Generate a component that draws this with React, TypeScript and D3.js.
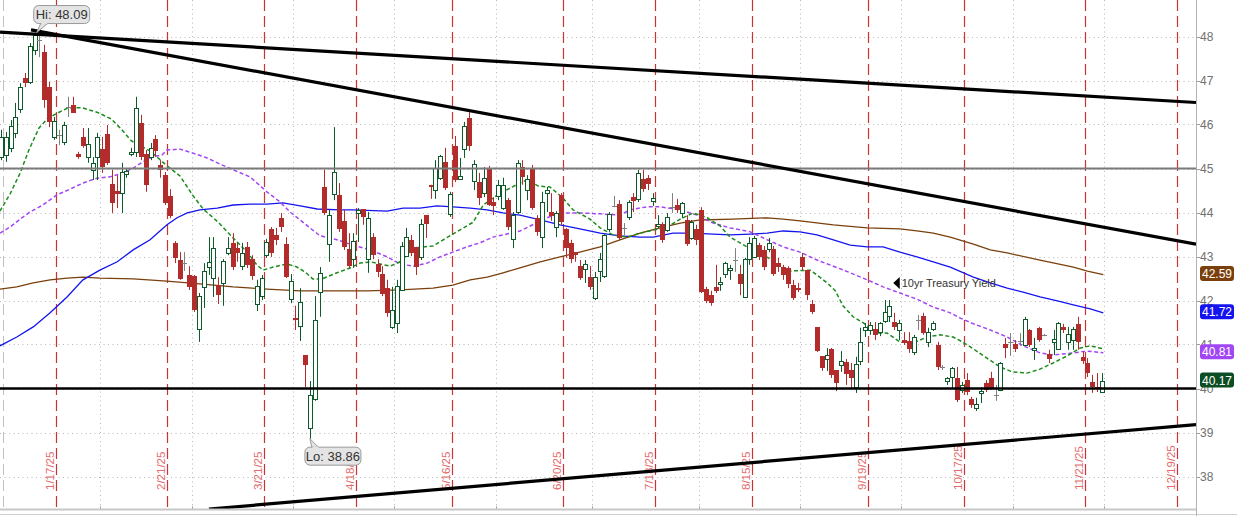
import React from "react";
import * as d3 from "d3";

type Bar = [number, number, number, number]; // open, high, low, close

// first bar is 12/31/24 (trading-day index -1); 1/2/25 is index 0
const FIRST_BAR_INDEX = -1;
const OHLC: Bar[] = [
  [45.26,45.88,45.19,45.72],[45.31,45.83,45.15,45.72],[45.47,46.10,45.37,45.97],[45.81,46.49,45.69,46.17],
  [46.35,46.94,46.26,46.85],[47.06,47.17,46.85,46.94],[46.97,47.85,46.92,47.78],[47.69,48.09,47.58,48.03],
  [47.92,48.03,47.53,47.92],[47.65,47.81,46.38,46.56],[46.85,46.97,45.94,46.06],[45.72,46.17,45.65,46.08],
  [45.76,45.88,45.53,45.76],[45.60,46.06,45.53,45.99],[46.40,46.63,46.17,46.40],[46.44,46.63,46.26,46.26],
  [45.33,45.38,45.22,45.26],[45.72,45.92,45.47,45.51],[45.26,45.92,45.13,45.56],[44.97,45.26,44.74,45.13],
  [45.26,45.81,44.74,45.72],[45.44,45.72,44.90,45.03],[45.78,45.99,45.08,45.13],[44.65,44.97,43.99,44.22],
  [44.49,44.85,44.10,44.42],[44.44,45.13,43.99,44.92],[44.87,45.01,44.79,44.94],[45.33,45.47,45.28,45.38],
  [45.38,46.63,45.26,46.38],[46.04,46.22,45.19,45.26],[45.33,45.42,44.47,44.62],[45.26,45.58,45.19,45.47],
  [45.67,45.76,45.26,45.40],[45.08,45.19,44.79,44.97],[44.85,44.92,44.17,44.22],[44.38,44.53,43.87,43.92],
  [43.31,43.35,42.85,42.97],[42.92,43.10,42.47,42.49],[42.85,43.10,42.67,42.85],[42.58,42.78,42.24,42.31],
  [42.56,42.58,41.74,41.78],[41.35,42.17,41.06,42.10],[42.31,42.85,41.83,42.67],[42.76,43.44,42.58,42.88],
  [42.51,43.44,42.08,43.19],[42.35,42.53,41.92,42.13],[42.40,42.94,41.88,42.90],[43.08,43.44,43.03,43.19],
  [43.31,43.53,42.69,42.76],[43.19,43.31,42.88,43.08],[42.78,43.31,42.69,43.08],[43.22,43.33,42.74,42.81],
  [42.94,43.03,42.47,42.56],[41.92,42.47,41.76,42.33],[42.10,42.58,42.01,42.51],[43.03,43.40,42.97,43.33],
  [43.63,43.67,42.99,43.08],[43.49,43.65,43.26,43.38],[43.88,43.99,43.56,43.67],[43.29,43.44,42.51,42.53],
  [42.03,42.60,41.94,42.44],[41.60,41.88,41.33,41.56],[41.42,42.28,41.08,41.97],[40.76,40.76,40.03,40.53],
  [39.10,40.17,38.86,39.85],[39.76,42.10,39.72,41.56],[42.19,42.76,41.63,42.63],[44.58,44.97,43.94,43.99],
  [43.29,44.06,42.88,43.94],[44.42,45.94,44.28,44.92],[44.40,44.67,43.56,43.63],[43.81,44.06,43.15,43.22],
  [43.17,43.53,42.74,42.78],[42.94,43.53,42.74,43.35],[43.99,44.10,43.33,44.06],[44.08,44.08,43.72,43.90],
  [42.94,44.01,42.63,43.88],[43.44,43.53,42.94,43.03],[42.83,42.94,42.53,42.65],[42.60,42.78,42.10,42.15],
  [42.28,42.47,41.63,41.72],[41.40,42.31,41.35,41.79],[41.49,42.47,41.26,42.33],[42.24,43.33,42.22,43.24],
  [43.01,43.65,42.99,43.44],[43.38,43.49,43.01,43.08],[43.22,43.22,42.58,42.76],[42.99,43.85,42.92,43.74],
  [43.94,43.94,43.42,43.74],[44.63,44.63,44.31,44.58],[44.51,45.19,44.31,45.01],[44.78,45.31,44.74,45.28],
  [45.15,45.47,44.51,44.56],[43.97,44.47,43.90,44.42],[45.51,45.74,44.69,44.74],[44.76,45.24,44.74,44.83],
  [45.44,46.06,45.24,45.97],[46.15,46.28,45.40,45.51],[44.72,45.19,44.51,45.10],[44.69,44.90,44.17,44.33],
  [44.44,45.03,44.35,44.79],[45.01,45.06,44.15,44.17],[44.24,44.35,43.94,44.15],[44.38,44.74,44.28,44.63],
  [44.10,44.79,44.06,44.63],[44.28,44.33,43.60,43.67],[43.40,44.01,43.19,43.94],[44.01,45.19,43.97,45.13],
  [45.03,45.19,44.63,44.81],[44.51,44.85,44.28,44.76],[44.99,45.08,44.06,44.10],[43.88,43.94,43.47,43.56],
  [43.44,44.47,43.19,44.24],[44.44,44.58,44.01,44.51],[44.01,44.44,43.81,43.92],[43.67,44.03,43.44,43.99],
  [44.40,44.44,43.72,43.78],[43.63,43.65,42.97,43.19],[43.31,43.38,42.85,42.94],[43.10,43.10,42.88,43.03],
  [42.78,42.92,42.47,42.51],[42.72,42.92,42.40,42.83],[42.53,42.78,42.24,42.31],[42.06,42.65,42.01,42.53],
  [42.67,43.08,42.42,42.94],[42.56,43.53,42.51,43.49],[43.63,44.01,43.56,43.97],[44.15,44.38,44.12,44.15],
  [44.19,44.28,43.38,43.42],[43.65,43.76,43.49,43.65],[43.90,44.28,43.83,44.24],[44.35,44.44,44.01,44.26],
  [44.31,44.97,44.24,44.90],[44.76,44.97,44.47,44.53],[44.78,44.85,44.51,44.65],[44.26,44.44,44.15,44.33],
  [43.69,43.94,43.65,43.74],[43.74,43.78,43.31,43.38],[43.60,43.99,43.56,43.90],[44.12,44.44,43.99,44.12],
  [44.17,44.31,43.99,44.06],[43.99,44.24,43.87,44.22],[43.83,43.94,43.24,43.29],[43.42,43.83,43.38,43.78],
  [43.63,43.72,43.26,43.38],[44.06,44.12,42.17,42.19],[42.26,42.31,41.94,41.99],[42.13,42.22,41.88,41.94],
  [42.31,42.81,42.17,42.22],[42.38,42.53,42.22,42.42],[42.60,42.88,42.51,42.85],[42.69,42.81,42.47,42.74],
  [42.92,43.19,42.65,42.92],[42.60,42.81,42.12,42.38],[42.08,42.97,42.08,42.94],[42.94,43.44,42.81,43.31],
  [42.99,43.47,42.97,43.42],[43.26,43.31,42.92,42.99],[43.15,43.24,42.69,42.76],[43.17,43.42,43.10,43.31],
  [43.17,43.24,42.56,42.60],[42.85,42.97,42.65,42.76],[42.76,42.81,42.47,42.58],[42.74,42.78,42.28,42.38],
  [42.35,42.47,42.01,42.06],[42.28,42.40,42.19,42.26],[42.99,43.08,42.69,42.76],[42.69,42.69,42.01,42.13],
  [41.92,42.01,41.69,41.74],[41.40,41.40,40.83,40.85],[40.74,40.74,40.40,40.47],[40.67,40.92,40.40,40.76],
  [40.90,40.92,40.24,40.31],[40.42,40.42,39.94,40.12],[40.53,40.85,40.38,40.63],[40.60,40.67,40.08,40.33],
  [40.42,40.58,39.99,40.24],[40.03,40.72,39.90,40.56],[40.63,41.38,40.53,41.06],[41.33,41.49,41.17,41.40],
  [41.33,41.51,41.22,41.44],[41.35,41.51,41.10,41.22],[41.28,41.51,41.19,41.49],[41.53,42.01,41.49,41.74],
  [41.65,42.01,41.51,41.88],[41.51,41.72,41.33,41.40],[41.33,41.56,41.10,41.49],[41.10,41.28,40.99,41.04],
  [41.08,41.28,40.81,40.90],[40.83,41.22,40.76,41.17],[41.56,41.67,41.33,41.56],[41.65,41.72,41.22,41.26],
  [41.06,41.38,40.94,41.28],[41.35,41.53,41.31,41.49],[40.99,41.06,40.42,40.49],[40.49,40.53,40.42,40.49],
  [40.17,40.26,40.08,40.24],[40.26,40.49,40.01,40.47],[40.24,40.49,39.69,39.74],[39.97,40.15,39.90,40.08],
  [40.19,40.35,39.85,39.92],[39.76,39.81,39.56,39.63],[39.56,39.79,39.49,39.65],[39.90,40.03,39.67,39.94],
  [40.12,40.19,39.92,39.97],[40.24,40.38,39.97,40.01],[39.85,40.08,39.72,39.85],[39.97,40.60,39.94,40.58],
  [41.01,41.15,40.69,40.92],[41.06,41.26,40.74,41.06],[41.01,41.10,40.83,40.90],[41.08,41.26,40.97,41.08],
  [40.99,41.63,40.97,41.58],[41.33,41.35,40.94,40.99],[40.88,41.15,40.65,40.92],[41.38,41.40,41.06,41.10],
  [41.22,41.24,41.19,41.22],[40.79,40.88,40.58,40.67],[41.06,41.33,40.76,41.13],[40.90,41.51,40.88,41.49],
  [41.40,41.47,41.26,41.33],[41.06,41.40,40.88,41.24],[41.10,41.40,40.88,41.35],[41.47,41.63,40.88,41.06],
  [40.72,40.83,40.56,40.63],[40.58,40.69,40.26,40.35],[40.15,40.31,39.90,40.03],[40.03,40.35,39.92,40.01],
  [39.92,40.35,39.90,40.17],
];

const WEEK_LABELS = ["1/17/25","2/21/25","3/21/25","4/18/25","5/16/25","6/20/25","7/18/25","8/15/25","9/19/25","10/17/25","11/21/25","12/19/25"];
const WEEK_INDEX = [10,33,53,72,92,115,134,154,178,198,223,242];
const MONTH_INDEX = [20,39,60,81,102,122,144,165,186,209,228];
const YEAR_START_INDEX = 0;
const PRICE_TICKS = [38,39,40,41,42,43,44,45,46,47,48];
const RESISTANCE_LEVEL = 45;
const SUPPORT_LEVEL = 40;

// trend lines: [index, price] end points
const TREND_UPPER: [number, number][] = [[-1.18,48.10],[246.5,46.50]];
const TREND_FALLING: [number, number][] = [[5.24,48.15],[246.5,43.28]];
const TREND_RISING: [number, number][] = [[42.1,37.26],[246.5,39.18]];

// moving averages: [index, value]
const MA_FAST: [number, number][] = [
  [-1.2,44.03],[0.9,44.42],[3.0,44.90],[4.8,45.42],[6.9,45.92],[8.8,46.15],[12.9,46.38],[15.8,46.38],
  [18.9,46.28],[21.8,46.13],[23.9,45.90],[26.0,45.63],[29.9,45.40],[33.0,45.10],[36.1,44.83],[38.8,44.38],
  [40.9,44.08],[44.0,43.78],[47.1,43.42],[50.0,43.10],[52.0,42.81],[53.3,42.69],[55.4,42.76],[58.3,42.83],
  [60.3,42.76],[62.0,42.65],[63.6,42.49],[65.5,42.49],[68.6,42.63],[71.3,42.74],[73.4,42.85],[75.5,42.88],
  [79.6,42.78],[81.7,42.88],[84.4,43.19],[88.5,43.24],[92.6,43.51],[96.8,43.78],[98.9,44.17],[102.4,44.44],
  [106.5,44.67],[108.0,44.74],[110.3,44.60],[112.7,44.58],[115.2,44.35],[117.5,44.06],[121.0,43.85],
  [123.1,43.65],[125.8,43.49],[128.7,43.44],[131.4,43.53],[134.1,43.60],[137.0,43.67],[139.7,43.85],
  [142.4,43.99],[145.3,43.88],[148.0,43.69],[150.0,43.44],[152.1,43.31],[154.2,43.17],[156.9,43.03],
  [158.7,42.92],[160.4,42.74],[162.5,42.67],[166.6,42.69],[168.0,42.58],[170.1,42.40],[171.8,42.22],
  [173.4,41.88],[175.5,41.63],[177.6,41.49],[180.5,41.26],[182.5,41.26],[185.2,41.06],[187.9,41.03],
  [190.8,41.17],[193.5,41.22],[196.2,41.17],[198.1,41.06],[200.4,40.90],[203.2,40.69],[205.9,40.49],
  [208.4,40.38],[211.5,40.35],[214.2,40.44],[216.9,40.58],[219.8,40.74],[222.5,40.92],[224.6,40.97],[227.3,40.90],
];
const MA_MID: [number, number][] = [
  [-1.2,43.53],[0.9,43.67],[3.0,43.85],[5.0,44.01],[7.7,44.17],[10.6,44.40],[13.3,44.53],[16.0,44.67],
  [18.9,44.78],[21.6,44.81],[24.3,44.90],[26.4,45.01],[28.4,45.15],[30.3,45.26],[32.4,45.31],[33.4,45.42],
  [36.1,45.44],[38.8,45.35],[41.7,45.24],[44.4,45.10],[47.1,44.97],[50.6,44.81],[54.1,44.47],[56.8,44.24],
  [58.9,44.01],[61.0,43.83],[63.0,43.65],[65.1,43.47],[68.6,43.38],[71.9,43.26],[75.5,43.15],[79.0,42.99],
  [81.7,42.83],[84.4,42.78],[87.3,42.85],[89.9,42.99],[92.6,43.10],[95.5,43.22],[98.2,43.31],[100.9,43.44],
  [103.8,43.51],[106.5,43.58],[112.1,43.88],[114.8,43.99],[118.9,43.99],[123.1,43.97],[127.2,43.94],
  [129.3,44.06],[132.8,44.13],[135.5,44.13],[139.7,44.06],[143.2,43.94],[146.5,43.76],[150.0,43.65],
  [154.2,43.56],[157.7,43.38],[161.0,43.22],[164.5,43.10],[168.0,42.92],[171.4,42.78],[174.9,42.63],
  [178.4,42.47],[181.7,42.31],[185.2,42.17],[188.7,42.03],[192.1,41.85],[195.6,41.72],[197.7,41.60],
  [200.4,41.47],[203.9,41.33],[207.4,41.17],[210.7,40.97],[214.2,40.81],[216.9,40.76],[221.1,40.81],
  [224.0,40.85],[227.3,40.81],
];
const MA_SLOW: [number, number][] = [
  [-1.2,40.97],[2.3,41.17],[5.7,41.40],[9.2,41.72],[12.7,42.08],[16.0,42.47],[19.5,42.69],[23.1,42.88],
  [26.4,43.15],[29.9,43.38],[33.4,43.72],[35.5,43.88],[37.6,43.99],[40.2,44.06],[43.8,44.10],[47.1,44.17],
  [50.6,44.19],[54.1,44.19],[57.4,44.22],[61.0,44.15],[64.5,44.08],[69.2,44.06],[71.9,44.06],[79.0,44.03],
  [82.3,44.10],[85.8,44.10],[89.3,44.15],[92.6,44.13],[96.2,44.10],[99.7,44.06],[103.0,43.99],[106.5,43.94],
  [110.7,43.83],[114.8,43.72],[118.9,43.63],[123.1,43.53],[127.2,43.47],[131.4,43.44],[134.1,43.44],
  [138.2,43.53],[142.4,43.53],[146.5,43.51],[150.0,43.49],[154.2,43.51],[157.7,43.53],[161.0,43.58],
  [164.5,43.56],[168.0,43.49],[171.4,43.38],[174.9,43.26],[178.4,43.22],[181.7,43.22],[185.2,43.10],
  [188.7,42.99],[192.1,42.88],[195.6,42.76],[200.4,42.53],[203.9,42.40],[207.4,42.28],[210.7,42.19],
  [214.2,42.08],[217.8,41.99],[221.1,41.90],[224.6,41.81],[227.3,41.72],
];
const MA_LONG: [number, number][] = [
  [-1.2,42.26],[2.3,42.31],[5.7,42.40],[9.2,42.47],[12.7,42.51],[16.0,42.53],[19.5,42.51],[26.4,42.49],
  [33.4,42.44],[40.2,42.38],[47.1,42.31],[54.1,42.26],[61.0,42.22],[67.8,42.22],[74.8,42.22],[81.7,42.24],
  [88.5,42.28],[92.6,42.35],[96.2,42.47],[99.7,42.53],[103.0,42.63],[106.5,42.74],[110.7,42.88],[114.8,42.99],
  [118.9,43.10],[123.1,43.22],[127.2,43.38],[131.4,43.53],[135.5,43.65],[139.7,43.76],[143.8,43.83],
  [150.6,43.85],[157.7,43.88],[161.0,43.85],[164.5,43.81],[171.4,43.72],[178.4,43.65],[185.2,43.63],
  [188.7,43.58],[192.1,43.53],[195.6,43.44],[200.4,43.28],[203.9,43.15],[207.4,43.08],[214.2,42.92],
  [221.1,42.76],[224.0,42.67],[227.3,42.59],
];

const LAST_VALUES = [42.59, 41.72, 40.81, 40.17];
const STUDY_LABEL = "10yr Treasury Yield";
const STUDY_POINT: [number, number] = [183.8, 42.40];

const FONT = "'Liberation Sans', Arial, sans-serif";
const GREEN = "#0d5a2b";
const RED = "#b22c2c";
const GRAY = "#808080";

export default function App() {
  const W = 1237, H = 516, PR = 1196, PB = 509;
  const x = d3.scaleLinear().domain([-1.18, 246.5]).range([0, PR]);
  const y = d3.scaleLinear().domain([38, 48]).range([476.5, 36.5]);
  const line = d3.line<[number, number]>().x(d => x(d[0])).y(d => y(d[1]));

  const hiPos = d3.maxIndex(OHLC, d => d[1]);
  const loPos = d3.minIndex(OHLC, d => d[2]);
  const hiIdx = hiPos + FIRST_BAR_INDEX, loIdx = loPos + FIRST_BAR_INDEX;
  const hiVal = OHLC[hiPos][1], loVal = OHLC[loPos][2];
  const hiTip = [x(hiIdx) + 2, y(hiVal)];
  const loTip = [x(loIdx), y(loVal)];

  const labelColors = ["#7b3f0c", "#1414f0", "#a246f5", "#0d4d24"];

  return (
    <svg width={W} height={H} style={{ position: "absolute", left: 0, top: 0, background: "#fff" }}>
      <defs>
        <clipPath id="plot"><rect x={0} y={0} width={PR} height={PB} /></clipPath>
      </defs>
      <rect x={0} y={0} width={W} height={H} fill="#fff" />
      {/* grid */}
      <g stroke="#b8b8b8" strokeWidth={1} strokeDasharray="1,3.5">
        {PRICE_TICKS.map(t => (
          <line key={"h" + t} x1={0} x2={PR} y1={Math.round(y(t)) + 0.5} y2={Math.round(y(t)) + 0.5} />
        ))}
        {MONTH_INDEX.map(m => (
          <line key={"m" + m} x1={Math.round(x(m - 0.5)) + 0.5} x2={Math.round(x(m - 0.5)) + 0.5} y1={0} y2={PB} />
        ))}
      </g>
      <line x1={Math.round(x(YEAR_START_INDEX - 0.5)) + 0.5} x2={Math.round(x(YEAR_START_INDEX - 0.5)) + 0.5} y1={0} y2={PB}
        stroke="#c0c0c0" strokeWidth={1} strokeDasharray="11,5" />
      {/* week markers */}
      <g clipPath="url(#plot)">
        {WEEK_INDEX.map((w, k) => {
          const lx = Math.round(x(w + 0.5)) + 0.5;
          return (
            <g key={"w" + w}>
              <line x1={lx} x2={lx} y1={0} y2={PB} stroke="#c93535" strokeWidth={1.2} strokeDasharray="11,5" />
              <text transform={`translate(${lx - 3},490) rotate(-90)`} fontFamily={FONT} fontSize={11.5}
                fill="#e26a6a">{WEEK_LABELS[k]}</text>
            </g>
          );
        })}
      </g>
      {/* moving averages */}
      <g clipPath="url(#plot)" fill="none">
        <path d={line(MA_LONG) || ""} stroke="#7b3f0c" strokeWidth={1.3} />
        <path d={line(MA_SLOW) || ""} stroke="#1414f0" strokeWidth={1.3} />
        <path d={line(MA_MID) || ""} stroke="#a246f5" strokeWidth={1.5} strokeDasharray="4,2.5" />
        <path d={line(MA_FAST) || ""} stroke="#1c8c1c" strokeWidth={1.5} strokeDasharray="4,2.5" />
      </g>
      {/* candles */}
      <g clipPath="url(#plot)">
        {OHLC.map((b, k) => {
          const i = k + FIRST_BAR_INDEX;
          const [o, h, l, c] = b;
          const cx = Math.round(x(i));
          const top = y(Math.max(o, c)), bot = y(Math.min(o, c));
          const wx = cx + 0.5;
          if (o === c) {
            return (
              <g key={k} stroke={GRAY} strokeWidth={1}>
                <line x1={wx} x2={wx} y1={y(h)} y2={y(l)} />
                <line x1={cx - 2} x2={cx + 3} y1={Math.round(top) + 0.5} y2={Math.round(top) + 0.5} />
              </g>
            );
          }
          if (c > o) {
            const t = Math.round(top) + 0.5, bb = Math.max(Math.round(bot) + 0.5, t + 2);
            return (
              <g key={k} stroke={GREEN} strokeWidth={1}>
                <line x1={wx} x2={wx} y1={y(h)} y2={t} />
                <line x1={wx} x2={wx} y1={bb} y2={y(l)} />
                <rect x={cx - 1.5} y={t} width={4} height={bb - t} fill="#fff" />
              </g>
            );
          }
          const t = Math.round(top), bb = Math.max(Math.round(bot), t + 2);
          return (
            <g key={k}>
              <line x1={wx} x2={wx} y1={y(h)} y2={y(l)} stroke={RED} strokeWidth={1} />
              <rect x={cx - 2} y={t} width={5} height={bb - t} fill={RED} />
            </g>
          );
        })}
      </g>
      {/* levels and trend lines */}
      <g clipPath="url(#plot)">
        <line x1={0} x2={PR} y1={y(RESISTANCE_LEVEL)} y2={y(RESISTANCE_LEVEL)} stroke="#7a7a7a" strokeWidth={2} />
        <line x1={0} x2={PR} y1={y(SUPPORT_LEVEL)} y2={y(SUPPORT_LEVEL)} stroke="#000" strokeWidth={2.6} />
        {[TREND_UPPER, TREND_FALLING, TREND_RISING].map((t, k) => (
          <path key={"t" + k} d={line(t) || ""} stroke="#000" strokeWidth={3.2} fill="none" />
        ))}
      </g>
      {/* study label */}
      <g>
        <polygon points={`${x(STUDY_POINT[0])},${y(STUDY_POINT[1])} ${x(STUDY_POINT[0]) + 6.5},${y(STUDY_POINT[1]) - 6} ${x(STUDY_POINT[0]) + 6.5},${y(STUDY_POINT[1]) + 6}`} fill="#000" />
        <text x={x(STUDY_POINT[0]) + 8.5} y={y(STUDY_POINT[1]) + 4} fontFamily={FONT} fontSize={11} fill="#333">{STUDY_LABEL}</text>
      </g>
      {/* hi / lo callouts */}
      <g fontFamily={FONT} fontSize={13} fill="#333">
        <polygon points={`${hiTip[0] + 4},${hiTip[1] - 9} ${hiTip[0]},${hiTip[1]} ${hiTip[0] + 11},${hiTip[1] - 9}`} fill="#e4e4e4" stroke="#9a9a9a" />
        <rect x={hiTip[0] - 3} y={hiTip[1] - 27} width={56} height={18} rx={5} fill="#e4e4e4" stroke="#9a9a9a" />
        <rect x={hiTip[0] + 4.5} y={hiTip[1] - 10.5} width={6} height={2} fill="#e4e4e4" />
        <text x={hiTip[0] + 25} y={hiTip[1] - 13.5} textAnchor="middle">{`Hi: ${hiVal.toFixed(2)}`}</text>

        <polygon points={`${loTip[0] + 2},${loTip[1] + 9} ${loTip[0]},${loTip[1]} ${loTip[0] + 9},${loTip[1] + 9}`} fill="#e4e4e4" stroke="#9a9a9a" />
        <rect x={loTip[0] - 5} y={loTip[1] + 8.5} width={56} height={18} rx={5} fill="#e4e4e4" stroke="#9a9a9a" />
        <rect x={loTip[0] + 2.5} y={loTip[1] + 8} width={6} height={2} fill="#e4e4e4" />
        <text x={loTip[0] + 23} y={loTip[1] + 22} textAnchor="middle">{`Lo: ${loVal.toFixed(2)}`}</text>
      </g>
      {/* bottom and right axes */}
      <line x1={0} x2={PR} y1={PB + 0.5} y2={PB + 0.5} stroke="#c8c8c8" strokeWidth={2} />
      <line x1={0} x2={W} y1={514.5} y2={514.5} stroke="#d0d0d0" strokeWidth={1} />
      {MONTH_INDEX.map(m => (
        <line key={"bt" + m} x1={Math.round(x(m - 0.5)) + 0.5} x2={Math.round(x(m - 0.5)) + 0.5} y1={PB - 3} y2={PB} stroke="#b0b0b0" />
      ))}
      <line x1={PR + 0.5} x2={PR + 0.5} y1={0} y2={H} stroke="#b4b4b4" strokeWidth={1} />
      <g fontFamily={FONT} fontSize={12} fill="#707070">
        {PRICE_TICKS.map(t => (
          <g key={"yt" + t}>
            <line x1={PR} x2={PR + 4} y1={Math.round(y(t)) + 0.5} y2={Math.round(y(t)) + 0.5} stroke="#a0a0a0" />
            <text x={PR + 4} y={y(t) + 4.5}>{t}</text>
          </g>
        ))}
      </g>
      <g fontFamily={FONT} fontSize={12}>
        {LAST_VALUES.map((v, k) => (
          <g key={"lv" + k}>
            <rect x={PR + 4} y={y(v) - 8.5} width={34} height={15} rx={3} fill={labelColors[k]} />
            <text x={PR + 21} y={y(v) + 3.5} textAnchor="middle" fill="#fff">{v.toFixed(2)}</text>
          </g>
        ))}
      </g>
    </svg>
  );
}
